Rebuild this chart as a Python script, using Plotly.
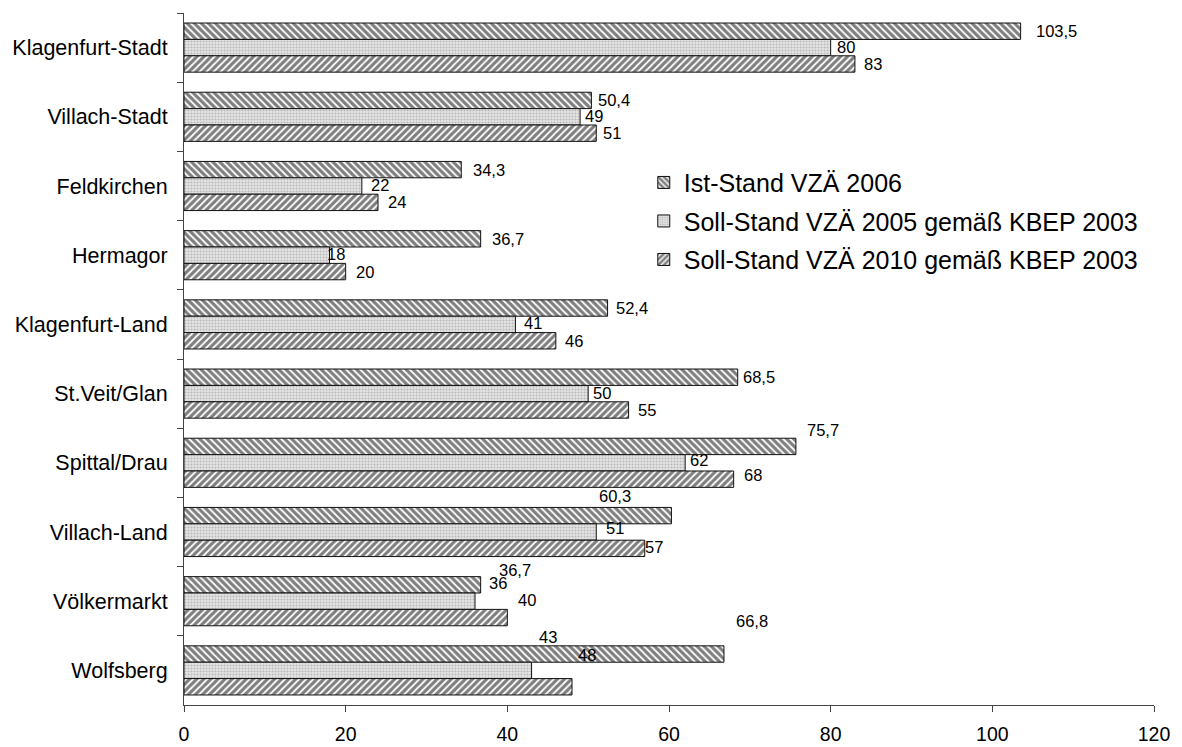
import plotly.graph_objects as go

categories = ["Klagenfurt-Stadt", "Villach-Stadt", "Feldkirchen", "Hermagor", "Klagenfurt-Land",
              "St.Veit/Glan", "Spittal/Drau", "Villach-Land", "Völkermarkt", "Wolfsberg"]
ist_2006 = [103.5, 50.4, 34.3, 36.7, 52.4, 68.5, 75.7, 60.3, 36.7, 66.8]
soll_2005 = [80, 49, 22, 18, 41, 50, 62, 51, 36, 43]
soll_2010 = [83, 51, 24, 20, 46, 55, 68, 57, 40, 48]
series_names = ["Ist-Stand VZÄ 2006", "Soll-Stand VZÄ 2005 gemäß KBEP 2003", "Soll-Stand VZÄ 2010 gemäß KBEP 2003"]

# label nudges in pixels (dx right, dy up) mimicking the original label placement
label_dx = [[14, 5, 8], [6, 4, 6], [11, 8, 9], [10, -4, 9], [7, 8, 8],
            [4, 4, 8], [10, 4, 9], [-73, 9, -1], [17, 13, 10], [11, 6, 5]]
label_dy = [[0, 1, 0], [0, 1, 0], [0, 1, 0], [0, 1, 0], [0, 1, 0],
            [0, 1, 0], [16, 3, 4], [20, 4, 1], [15, 18, 18], [33, 33, 32]]

FONT = "Liberation Sans, Arial, sans-serif"
W, H = 1182, 747
ML, MR, MT, MB = 184, 28, 13, 42
BARGAP = 0.29


def fmt(v):
    return f"{v:g}".replace(".", ",")


patterns = [
    dict(shape="\\", fgcolor="#000000", bgcolor="#ffffff", size=5, solidity=0.65),
    dict(shape=".", fgcolor="#8c8c8c", bgcolor="#e6e6e6", size=3, solidity=0.4),
    dict(shape="/", fgcolor="#000000", bgcolor="#ffffff", size=5, solidity=0.65),
]

all_series = [ist_2006, soll_2005, soll_2010]
fig = go.Figure()
for i, (name, vals) in enumerate(zip(series_names, all_series)):
    fig.add_trace(go.Bar(
        y=categories, x=vals, orientation="h", name=name,
        legendgroup=f"g{i}",
        marker=dict(color="#ffffff", pattern=patterns[i], line=dict(color="#111111", width=1)),
    ))

# data labels as annotations anchored on the data values
cat_px = (H - MT - MB) / len(categories)
bar_px = cat_px * (1 - BARGAP) / len(all_series)
annotations = []
for i, vals in enumerate(all_series):
    for c, (cat, v) in enumerate(zip(categories, vals)):
        annotations.append(dict(
            x=v, y=cat, xref="x", yref="y", text=fmt(v), showarrow=False,
            xanchor="left", yanchor="middle",
            xshift=label_dx[c][i] - 1, yshift=-(i - 1) * bar_px + label_dy[c][i],
            font=dict(family=FONT, size=16.5, color="#000000"),
        ))

fig.update_layout(
    width=W, height=H,
    margin=dict(l=ML, r=MR, t=MT, b=MB, autoexpand=False),
    paper_bgcolor="#ffffff", plot_bgcolor="#ffffff",
    barmode="group", bargap=BARGAP, bargroupgap=0,
    font=dict(family=FONT, color="#000000"),
    legend=dict(x=0.474, xanchor="left", y=0.788, yanchor="top",
                font=dict(family=FONT, size=25, color="#000000"),
                bgcolor="rgba(0,0,0,0)", tracegroupgap=3),
    xaxis=dict(range=[0, 120], dtick=20, showgrid=False, zeroline=False, automargin=False,
               showline=True, linecolor="#444444", linewidth=1,
               ticks="outside", ticklen=6, tickcolor="#444444",
               ticklabelstandoff=6,
               tickfont=dict(family=FONT, size=19.5, color="#000000")),
    yaxis=dict(range=[len(categories) - 0.5, -0.5], showgrid=False, zeroline=False, automargin=False,
               showline=True, linecolor="#444444", linewidth=1,
               ticks="outside", ticklen=6, tickcolor="#444444", tickson="boundaries",
               ticklabelstandoff=11,
               tickfont=dict(family=FONT, size=21.5, color="#000000")),
    annotations=annotations,
)

fig.write_html("out.html", config={"displayModeBar": False},
               post_script="document.body.style.margin='0';")
